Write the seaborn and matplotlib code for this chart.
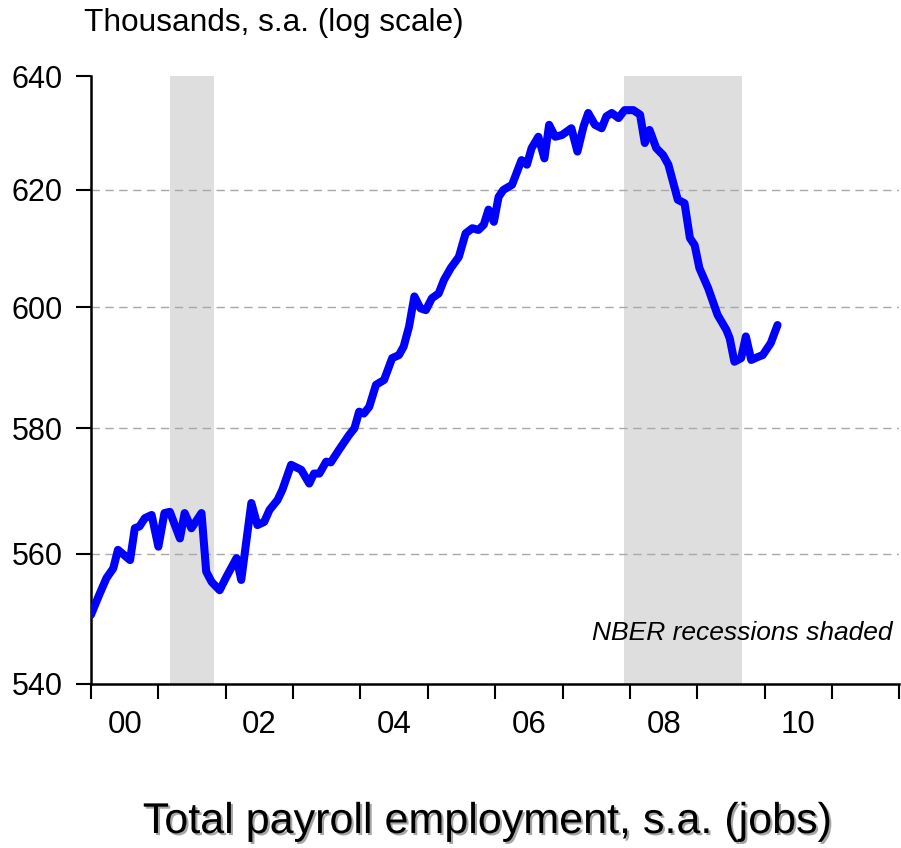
import matplotlib
matplotlib.use("Agg")
import matplotlib.pyplot as plt
import matplotlib.patheffects as pe
import seaborn as sns
import pandas as pd

# ---- data ----
years = [2000.00, 2000.11, 2000.23, 2000.33, 2000.40, 2000.58, 2000.65, 2000.72, 2000.80, 2000.90,
         2001.00, 2001.09, 2001.17, 2001.32, 2001.39, 2001.49, 2001.64, 2001.71, 2001.79, 2001.91,
         2002.01, 2002.16, 2002.23, 2002.38, 2002.47, 2002.57, 2002.65, 2002.77, 2002.84, 2002.97,
         2003.12, 2003.24, 2003.31, 2003.39, 2003.49, 2003.56, 2003.68, 2003.83, 2003.91, 2003.98,
         2004.05, 2004.13, 2004.23, 2004.35, 2004.47, 2004.57, 2004.64, 2004.72, 2004.80, 2004.89,
         2004.97, 2005.06, 2005.16, 2005.24, 2005.34, 2005.46, 2005.56, 2005.66, 2005.75, 2005.83,
         2005.90, 2005.98, 2006.05, 2006.12, 2006.25, 2006.39, 2006.47, 2006.54, 2006.64, 2006.73,
         2006.80, 2006.89, 2006.99, 2007.13, 2007.22, 2007.31, 2007.38, 2007.48, 2007.58, 2007.65,
         2007.73, 2007.83, 2007.92, 2008.05, 2008.15, 2008.22, 2008.29, 2008.39, 2008.49, 2008.57,
         2008.71, 2008.81, 2008.89, 2008.96, 2009.03, 2009.16, 2009.30, 2009.43, 2009.48, 2009.55,
         2009.65, 2009.72, 2009.80, 2009.90, 2009.97, 2010.09, 2010.19]
employment = [550.5, 553.3, 556.2, 557.7, 560.6, 559.0, 564.0, 564.3, 565.6, 566.1,
              561.1, 566.4, 566.6, 562.4, 566.4, 564.0, 566.4, 557.2, 555.6, 554.3,
              556.4, 559.3, 555.9, 568.0, 564.5, 565.0, 566.9, 568.5, 570.1, 574.1,
              573.3, 571.1, 572.7, 572.7, 574.6, 574.5, 576.5, 578.9, 580.0, 582.7,
              582.4, 583.5, 587.1, 587.9, 591.5, 592.0, 593.4, 596.7, 601.8, 599.8,
              599.5, 601.5, 602.3, 604.6, 606.6, 608.5, 612.5, 613.4, 613.1, 614.0,
              616.6, 614.5, 618.8, 620.0, 620.9, 625.2, 624.4, 627.3, 629.3, 625.5,
              631.4, 629.3, 629.6, 630.8, 626.7, 631.1, 633.5, 631.4, 630.8, 632.9,
              633.5, 632.6, 634.0, 634.0, 633.2, 628.2, 630.5, 627.3, 626.1, 624.4,
              618.3, 617.7, 611.7, 610.5, 606.6, 603.2, 598.7, 596.2, 594.8, 590.9,
              591.5, 595.1, 591.2, 591.7, 592.0, 594.0, 597.0]

recession_start = [2001.167, 2007.917]
recession_end = [2001.833, 2009.67]

y_ticks = [540, 560, 580, 600, 620, 640]
x_year_ticks = list(range(2000, 2013))
x_label_pos = [2000.5, 2002.5, 2004.5, 2006.5, 2008.5, 2010.5]
x_labels = ["00", "02", "04", "06", "08", "10"]

df = pd.DataFrame({"year": years, "employment": employment})

# ---- style ----
sns.set_style("white")
plt.rcParams["font.family"] = ["Liberation Sans", "DejaVu Sans"]
plt.rcParams["text.color"] = "black"
plt.rcParams["xtick.color"] = "black"
plt.rcParams["ytick.color"] = "black"
plt.rcParams["axes.labelcolor"] = "black"

fig = plt.figure(figsize=(9.01, 8.48), dpi=100)
ax = fig.add_axes([0.101, 0.1938, 0.8973, 0.716])

for s, e in zip(recession_start, recession_end):
    ax.axvspan(s, e, color="#dedede", lw=0, zorder=0)

sns.lineplot(data=df, x="year", y="employment", ax=ax, color="#0000ff",
             linewidth=5.8, zorder=3)

ax.set_yscale("log")
ax.set_ylim(540, 640)
ax.set_xlim(2000, 2012)
ax.set_yticks(y_ticks)
ax.set_yticklabels([str(v) for v in y_ticks])
ax.yaxis.set_minor_locator(matplotlib.ticker.NullLocator())
ax.yaxis.set_minor_formatter(matplotlib.ticker.NullFormatter())

for v in y_ticks[1:-1]:
    ax.axhline(v, color="#a8a8a8", lw=1.0, ls=(0, (6, 4)), zorder=1)

ax.set_xticks(x_year_ticks)
ax.set_xticklabels([""] * len(x_year_ticks))
ax.set_xticks(x_label_pos, minor=True)
ax.set_xticklabels(x_labels, minor=True)

ax.tick_params(axis="x", which="major", direction="out", length=10.5, width=1.5,
               color="black", bottom=True)
ax.tick_params(axis="x", which="minor", length=0, pad=19, labelsize=22.5,
               labelcolor="black")
ax.tick_params(axis="y", which="major", direction="out", length=10.5, width=1.5,
               color="black", left=True, pad=10, labelsize=22, labelcolor="black")

for side in ["top", "right"]:
    ax.spines[side].set_visible(False)
for side in ["left", "bottom"]:
    ax.spines[side].set_color("black")
    ax.spines[side].set_linewidth(1.8)

ax.set_xlabel("")
ax.set_ylabel("")

fig.text(84 / 901, 1 - 23 / 848, "Thousands, s.a. (log scale)", fontsize=22.8,
         ha="left", va="center", color="black")
fig.text(892 / 901, 1 - 633 / 848, "NBER recessions shaded", fontsize=19,
         style="italic", ha="right", va="center", color="black")
fig.text(487 / 901, 1 - 822 / 848, "Total payroll employment, s.a. (jobs)", fontsize=31,
         ha="center", va="center", color="black",
         path_effects=[pe.withSimplePatchShadow(offset=(1.5, -1.5), shadow_rgbFace="#909090", alpha=0.8)])

fig.savefig("out.png", dpi=100)
